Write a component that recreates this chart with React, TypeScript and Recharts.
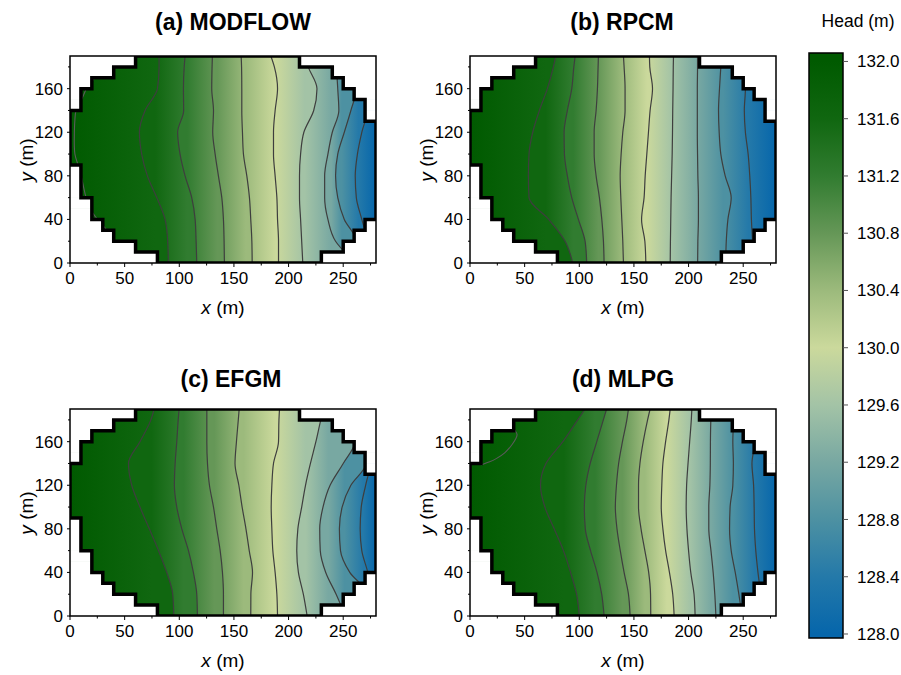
import React from 'react';
import { ComposedChart, Area, Line, XAxis, YAxis, ReferenceArea } from 'recharts';

const FONT = '"Liberation Sans", Arial, Helvetica, sans-serif';

// head levels of the contour lines, west (high) to east (low)
const LEVELS = [131.6, 131.2, 130.8, 130.4, 130.0, 129.6, 129.2, 128.8, 128.4];
const HEAD_MIN = 128.0;
const HEAD_MAX = 132.0;

// y stations (m) at which every contour's x position is listed
const ROW_Y = [0, 20, 40, 60, 80, 100, 120, 140, 160, 180, 190];

// model domain: west and east edge of each 10 m cell row, from y = 0 upward
const ROW_H = 10;
const ROW_LEFT = [80, 60, 40, 30, 20, 20, 10, 10, 10, 0, 0, 0, 0, 0, 10, 10, 20, 40, 60];
const ROW_RIGHT = [230, 250, 260, 270, 280, 280, 280, 280, 280, 280, 280, 280, 280, 270, 270, 260, 250, 240, 210];
const X_MAX = 280;
const Y_MAX = 190;

const X_TICKS = [0, 25, 50, 75, 100, 125, 150, 175, 200, 225, 250, 275];
const Y_TICKS = [0, 20, 40, 60, 80, 100, 120, 140, 160, 180];
const BAR_TICKS = [128.0, 128.4, 128.8, 129.2, 129.6, 130.0, 130.4, 130.8, 131.2, 131.6, 132.0];
const BAR_DOMAIN: [number, number] = [127.972, 132.059];

const COLOR_STOPS: [number, string][] = [
  [128.0, '#0666ab'],
  [128.4, '#2479a9'],
  [128.8, '#4d91a2'],
  [129.2, '#78a8a2'],
  [129.6, '#a3c3a6'],
  [130.0, '#cbd99c'],
  [130.4, '#9cba7c'],
  [130.8, '#659757'],
  [131.2, '#317c30'],
  [131.6, '#106710'],
  [132.0, '#005a00'],
];

// contour x positions (m) at ROW_Y, one row per level in LEVELS
const MODFLOW_X = [
  [90, 89.4, 87, 79.4, 70.8, 65.6, 63.5, 68.7, 80, 81.5, 81.5],
  [116, 115.4, 114.5, 111.4, 105.3, 100.7, 98.5, 104, 103.8, 104.5, 105.3],
  [141.3, 141, 140.4, 138.9, 135.8, 132.8, 130.6, 131.3, 129.7, 130, 130.3],
  [166.7, 166.4, 165.4, 164.2, 161.8, 158.7, 157.8, 157.2, 157.2, 157, 156.6],
  [190.8, 190.8, 189.9, 189.3, 187.7, 186.2, 186.2, 187.7, 189.9, 187, 183.8],
  [213, 212, 211, 210, 210, 211, 214, 223, 226, 218, 215],
  [262, 243, 236, 233, 233, 236, 240, 246, 245, 244, 246],
  [262, 262, 251, 245, 243, 245, 251, 257, 262, 262, 262],
  [272, 272, 267, 262, 261, 263, 267, 272, 272, 272, 272],
];

const RPCM_X = [
  [94, 87, 72, 54, 53.4, 54, 57.4, 63.5, 70.8, 76.3, 78.4],
  [106.8, 105.3, 99.2, 93.1, 89.1, 86.4, 86.1, 89.1, 93.1, 95, 96.2],
  [122.7, 122.1, 120.6, 118.4, 115.4, 113.6, 113.6, 115.4, 116.6, 117.2, 117.5],
  [140.4, 139.8, 138.9, 138, 137.4, 138.3, 139.8, 141.9, 141.9, 141, 140.4],
  [160.9, 160, 157, 159.3, 160.3, 161.8, 163.3, 164.8, 167, 164.5, 164.2],
  [183.2, 183.4, 183.7, 184, 184.5, 185, 185.3, 185.5, 185.8, 186, 186.2],
  [208.3, 208.5, 209, 209, 208.5, 208.2, 208, 208, 208, 208.2, 208.2],
  [234, 234.5, 236, 239, 233.5, 229.5, 228, 227.4, 228.3, 229.5, 230],
  [259, 258.5, 257.5, 257, 256, 254.5, 252, 251, 252, 252, 252],
];

const EFGM_X = [
  [95, 94, 88.5, 81, 72.6, 64, 56.5, 53.5, 64, 74, 77],
  [116.6, 116, 112.9, 108.4, 102.3, 97.7, 95.5, 96.2, 97.7, 99, 99.8],
  [140.4, 140.4, 139.5, 137.4, 134.3, 131.3, 127.6, 125.8, 125.2, 125.2, 125.2],
  [165.4, 165.5, 167, 164, 161, 157.5, 154.5, 151, 152.3, 154, 154.8],
  [189.9, 189.3, 187.7, 185.6, 184.7, 184.1, 184.7, 186.2, 190.8, 191.2, 191.7],
  [217, 213.5, 209, 207.5, 208.5, 212, 215.5, 220, 225, 229.5, 232],
  [252, 243.5, 234, 229, 228.5, 231.5, 238, 250, 261, 262, 262],
  [272, 272, 256, 247.5, 246.5, 249, 257, 271, 272, 272, 272],
  [276, 276, 272.5, 267, 265.5, 266.5, 270.5, 275, 276, 276, 276],
];

const MLPG_X = [
  [100, 97.5, 92, 85.5, 77, 68.5, 64.5, 69.5, 85, 98.5, 105.3],
  [122.7, 120.5, 116.2, 110.3, 105.5, 104.6, 106, 110, 116, 122, 125],
  [146.5, 145, 141, 137.5, 134.5, 133, 134, 136, 139.5, 143.5, 145],
  [165.4, 165.2, 163.5, 160, 156.5, 154.2, 154.2, 155.5, 158.5, 162.5, 164.8],
  [186.8, 185.5, 182.5, 179, 176.5, 175, 175.5, 176.5, 179, 182, 183.2],
  [206, 205, 202, 200, 198.5, 197.8, 198.2, 199.5, 201, 202.5, 203],
  [225, 224, 222.5, 220.5, 218.5, 218.5, 219.5, 219.9, 220, 220.4, 221],
  [249, 246, 242.7, 239, 237.5, 238, 240.5, 241, 240.5, 241, 241],
  [268, 266, 263.5, 261.5, 260.3, 260, 259.5, 258, 260.5, 260.5, 260.5],
];

// 132.0 m contour along the western edge
const MODFLOW_CREST = [
  { x: 34, y: 30 }, { x: 27, y: 38 }, { x: 19.6, y: 48 }, { x: 13.7, y: 64 },
  { x: 9, y: 85 }, { x: 4.5, y: 100 }, { x: 4, y: 120 }, { x: 5.5, y: 140 },
  { x: 10.5, y: 150 }, { x: 15, y: 160 }, { x: 22, y: 169 },
];
const MLPG_CREST = [
  { x: 9.8, y: 138.6 }, { x: 18, y: 141.5 }, { x: 24.4, y: 144.7 }, { x: 32, y: 150 },
  { x: 38.2, y: 157 }, { x: 42, y: 163 }, { x: 43, y: 167 }, { x: 41, y: 170.5 },
];

// ─────────────────────────────────────────────
// helpers
// ─────────────────────────────────────────────

function hexToRgb(hex: string) {
  const n = parseInt(hex.slice(1), 16);
  return [(n >> 16) & 255, (n >> 8) & 255, n & 255];
}

function headColor(v: number) {
  const t = Math.max(HEAD_MIN, Math.min(HEAD_MAX, v));
  for (let i = 1; i < COLOR_STOPS.length; i++) {
    const [v0, c0] = COLOR_STOPS[i - 1];
    const [v1, c1] = COLOR_STOPS[i];
    if (t <= v1) {
      const f = (t - v0) / (v1 - v0);
      const a = hexToRgb(c0);
      const b = hexToRgb(c1);
      const mix = a.map((ch, j) => Math.round(ch + (b[j] - ch) * f));
      return `rgb(${mix[0]},${mix[1]},${mix[2]})`;
    }
  }
  return COLOR_STOPS[COLOR_STOPS.length - 1][1];
}

function insideDomain(x: number, y: number) {
  const rows = [Math.floor(y / ROW_H), Math.floor(y / ROW_H) - 1];
  return rows.some((r) => {
    const i = Math.min(Math.max(r, 0), ROW_LEFT.length - 1);
    return x >= ROW_LEFT[i] && x <= ROW_RIGHT[i];
  });
}

// mean x of a contour over the stations where it lies inside the domain
function visibleMean(xs: number[]) {
  const inside = xs.filter((x, r) => insideDomain(x, ROW_Y[r]));
  const pts = inside.length ? inside : xs;
  return pts.reduce((s, x) => s + x, 0) / pts.length;
}

const OUTLINE = (() => {
  const pts: { x: number; y: number }[] = [];
  ROW_LEFT.forEach((x, i) => {
    pts.push({ x, y: i * ROW_H });
    pts.push({ x, y: (i + 1) * ROW_H });
  });
  for (let i = ROW_RIGHT.length - 1; i >= 0; i--) {
    pts.push({ x: ROW_RIGHT[i], y: (i + 1) * ROW_H });
    pts.push({ x: ROW_RIGHT[i], y: i * ROW_H });
  }
  pts.push(pts[0]);
  return pts;
})();

const X_TICK_LEN = 4;
const X_TICK_PAD = 5;
const Y_TICK_LEN = 3;
const Y_TICK_PAD = 4;

const renderXTick = (props: any) => {
  const { x, y, payload } = props;
  const value = payload.value as number;
  const major = value % 50 === 0;
  const axisY = y - X_TICK_LEN - X_TICK_PAD;
  return (
    <g>
      <line x1={x} x2={x} y1={axisY} y2={axisY + (major ? X_TICK_LEN : 2.5)} stroke="#000" strokeWidth={1} />
      {major && (
        <text x={x} y={y} dy="0.71em" textAnchor="middle" fontSize={17} fontFamily={FONT} fill="#000">
          {value}
        </text>
      )}
    </g>
  );
};

const renderYTick = (props: any) => {
  const { x, y, payload } = props;
  const value = payload.value as number;
  const major = value % 40 === 0;
  const axisX = x + Y_TICK_LEN + Y_TICK_PAD;
  return (
    <g>
      <line x1={axisX} x2={axisX - (major ? Y_TICK_LEN : 2)} y1={y} y2={y} stroke="#000" strokeWidth={1} />
      {major && (
        <text x={x} y={y} dy="0.355em" textAnchor="end" fontSize={17} fontFamily={FONT} fill="#000">
          {value}
        </text>
      )}
    </g>
  );
};

// ─────────────────────────────────────────────
// one contour map
// ─────────────────────────────────────────────

interface PanelProps {
  id: string;
  contours: number[][];
  crest?: { x: number; y: number }[];
  left: number;
  top: number;
}

function ContourPanel({ id, contours, crest, left, top }: PanelProps) {
  const rows = ROW_Y.map((y, r) => {
    const row: Record<string, number> = { y };
    contours.forEach((xs, k) => {
      row[`c${k}`] = xs[r];
    });
    return row;
  });
  const centres = contours.map(visibleMean);
  const last = contours.length - 1;
  const paintOrder = contours.map((_, k) => k).reverse();

  const mask: React.ReactNode[] = [];
  ROW_LEFT.forEach((xl, i) => {
    const y1 = i * ROW_H - 0.3;
    const y2 = (i + 1) * ROW_H + 0.3;
    if (xl > 0) {
      mask.push(
        <ReferenceArea key={`ml${i}`} x1={0} x2={xl} y1={Math.max(0, y1)} y2={Math.min(Y_MAX, y2)}
          fill="#fff" fillOpacity={1} stroke="none" zIndex={650} ifOverflow="hidden" />,
      );
    }
    const xr = ROW_RIGHT[i];
    if (xr < X_MAX) {
      mask.push(
        <ReferenceArea key={`mr${i}`} x1={xr} x2={X_MAX} y1={Math.max(0, y1)} y2={Math.min(Y_MAX, y2)}
          fill="#fff" fillOpacity={1} stroke="none" zIndex={650} ifOverflow="hidden" />,
      );
    }
  });

  return (
    <div style={{ position: 'absolute', left, top }}>
      <ComposedChart layout="vertical" width={400} height={330} data={rows}
        margin={{ top: 56, right: 24, bottom: 37, left: 10 }}>
        <defs>
          <linearGradient id={`${id}-bg`} x1="0" y1="0" x2="1" y2="0">
            <stop offset={centres[last] / X_MAX} stopColor={headColor(LEVELS[last])} />
            <stop offset={1} stopColor={headColor(HEAD_MIN)} />
          </linearGradient>
          {contours.map((xs, k) => {
            const span = Math.max(...xs);
            const fromX = k === 0 ? 0 : centres[k - 1];
            const fromV = k === 0 ? HEAD_MAX : LEVELS[k - 1];
            return (
              <linearGradient key={k} id={`${id}-band${k}`} x1="0" y1="0" x2="1" y2="0">
                <stop offset={fromX / span} stopColor={headColor(fromV)} />
                <stop offset={centres[k] / span} stopColor={headColor(LEVELS[k])} />
              </linearGradient>
            );
          })}
        </defs>
        <XAxis type="number" domain={[0, X_MAX]} ticks={X_TICKS} interval={0} allowDataOverflow
          axisLine={false} tickLine={false} tickSize={X_TICK_LEN} tickMargin={X_TICK_PAD}
          tick={renderXTick} height={30} />
        <YAxis type="number" dataKey="y" domain={[0, Y_MAX]} ticks={Y_TICKS} interval={0} allowDataOverflow
          reversed axisLine={false} tickLine={false} tickSize={Y_TICK_LEN} tickMargin={Y_TICK_PAD}
          tick={renderYTick} width={60} />

        <ReferenceArea x1={0} x2={X_MAX} y1={0} y2={Y_MAX} fill={`url(#${id}-bg)`} fillOpacity={1}
          stroke="none" zIndex={50} />

        {paintOrder.map((k) => (
          <Area key={`a${k}`} dataKey={`c${k}`} type="monotone" baseValue={0} stroke="none"
            fill={`url(#${id}-band${k})`} fillOpacity={1} dot={false} activeDot={false}
            isAnimationActive={false} />
        ))}

        {contours.map((_, k) => (
          <Line key={`l${k}`} dataKey={`c${k}`} type="monotone" stroke="#3e3e3e" strokeWidth={1.2}
            dot={false} activeDot={false} isAnimationActive={false} />
        ))}

        {crest && (
          <Line data={crest} dataKey="x" type="natural" stroke="#5a5a5a" strokeWidth={1.1}
            dot={false} activeDot={false} isAnimationActive={false} />
        )}

        {mask}

        <Line data={OUTLINE} dataKey="x" type="linear" stroke="#000" strokeWidth={3.5}
          strokeLinejoin="miter" strokeLinecap="square" dot={false} activeDot={false}
          isAnimationActive={false} zIndex={700} />

        <ReferenceArea x1={0} x2={X_MAX} y1={0} y2={Y_MAX} fill="none" stroke="#000"
          strokeWidth={1.5} zIndex={750} />
      </ComposedChart>
    </div>
  );
}

// ─────────────────────────────────────────────
// colour scale
// ─────────────────────────────────────────────

function ColorBar() {
  const span = BAR_DOMAIN[1] - BAR_DOMAIN[0];
  return (
    <div style={{ position: 'absolute', left: 800, top: 0 }}>
      <ComposedChart width={101} height={675} data={[{ v: 0 }, { v: 1 }]}
        margin={{ top: 53, right: 0, bottom: 37, left: 9 }}>
        <defs>
          <linearGradient id="head-scale" x1="0" y1="1" x2="0" y2="0">
            {COLOR_STOPS.map(([v, c]) => (
              <stop key={v} offset={(v - BAR_DOMAIN[0]) / span} stopColor={c} />
            ))}
          </linearGradient>
        </defs>
        <XAxis type="number" dataKey="v" domain={[0, 1]} hide />
        <YAxis orientation="right" type="number" domain={BAR_DOMAIN} ticks={BAR_TICKS} interval={0}
          allowDataOverflow tickFormatter={(v: number) => v.toFixed(1)} tickSize={5} tickMargin={9}
          axisLine={false} tickLine={{ stroke: '#555' }}
          tick={{ fontSize: 17, fill: '#000', fontFamily: FONT }} width={58} />
        <ReferenceArea x1={0} x2={1} y1={BAR_DOMAIN[0]} y2={BAR_DOMAIN[1]} fill="url(#head-scale)"
          fillOpacity={1} stroke="#000" strokeWidth={1.5} />
      </ComposedChart>
    </div>
  );
}

function Caption({ x, y, size, bold, rotate, children }: {
  x: number; y: number; size: number; bold?: boolean; rotate?: boolean; children: React.ReactNode;
}) {
  return (
    <div style={{
      position: 'absolute', left: x, top: y, fontSize: size, fontWeight: bold ? 700 : 400,
      lineHeight: 1, whiteSpace: 'nowrap',
      transform: `translate(-50%, -50%)${rotate ? ' rotate(-90deg)' : ''}`,
    }}>
      {children}
    </div>
  );
}

const PANELS = [
  { id: 'modflow', title: '(a) MODFLOW', contours: MODFLOW_X, crest: MODFLOW_CREST, left: 0, top: 0, titleX: 233 },
  { id: 'rpcm', title: '(b) RPCM', contours: RPCM_X, left: 400, top: 0, titleX: 622 },
  { id: 'efgm', title: '(c) EFGM', contours: EFGM_X, left: 0, top: 353, titleX: 231 },
  { id: 'mlpg', title: '(d) MLPG', contours: MLPG_X, crest: MLPG_CREST, left: 400, top: 353, titleX: 623 },
];

export default function App() {
  return (
    <div style={{
      position: 'absolute', left: 0, top: 0, width: 901, height: 675, background: '#fff',
      fontFamily: FONT, color: '#000', overflow: 'hidden',
    }}>
      {PANELS.map((p) => (
        <React.Fragment key={p.id}>
          <ContourPanel id={p.id} contours={p.contours} crest={p.crest} left={p.left} top={p.top} />
          <Caption x={p.titleX} y={p.top + 22 + (p.top ? 4 : 0)} size={23} bold>{p.title}</Caption>
          <Caption x={p.left + 223} y={p.top + 307} size={19}>
            <i>x</i> (m)
          </Caption>
          <Caption x={p.left + 26} y={p.top + 160} size={19} rotate>
            <i>y</i> (m)
          </Caption>
        </React.Fragment>
      ))}
      <Caption x={858} y={22} size={17.5}>Head (m)</Caption>
      <ColorBar />
    </div>
  );
}
